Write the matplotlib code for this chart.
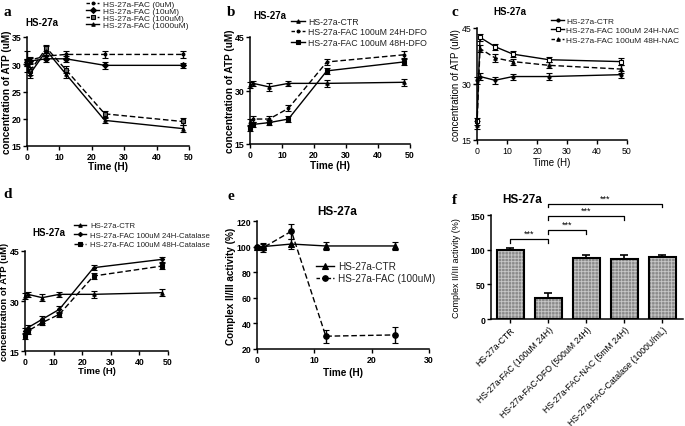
import matplotlib
matplotlib.use("Agg")
import matplotlib.pyplot as plt
from matplotlib.lines import Line2D
import numpy as np

plt.rcParams['font.family'] = ['Liberation Sans', 'DejaVu Sans']
plt.rcParams['hatch.linewidth'] = 0.6

W, H = 685, 427

# ---------------- data ----------------
time_atp = [0, 1, 6, 12, 24, 48]

# panel a
a_labels = ["HS-27a-FAC (0uM)", "HS-27a-FAC (10uM)", "HS-27a-FAC (100uM)", "HS-27a-FAC (1000uM)"]
a_0uM = [30.5, 30.8, 31.5, 31.8, 31.8, 31.8]
a_10uM = [30.4, 30.6, 31.0, 31.0, 29.8, 29.8]
a_100uM = [30.3, 28.8, 33.0, 29.0, 20.9, 19.5]
a_1000uM = [30.2, 28.3, 32.5, 28.2, 19.7, 18.2]
a_err = [[2.0, 0.5, 0.6, 0.6, 0.6, 0.6],
         [0.5, 0.5, 0.6, 0.6, 0.6, 0.5],
         [0.6, 0.7, 0.6, 0.6, 0.5, 0.7],
         [0.6, 0.8, 0.8, 0.7, 0.5, 0.7]]

# panel b
b_labels = ["HS-27a-CTR", "HS-27a-FAC 100uM 24H-DFO", "HS-27a-FAC 100uM 48H-DFO"]
b_ctr = [31.5, 32.0, 31.0, 32.0, 32.0, 32.3]
b_24 = [21.0, 22.0, 22.0, 25.0, 38.0, 40.0]
b_48 = [19.5, 20.5, 21.0, 22.0, 35.5, 38.0]
b_err = [[0.8, 0.8, 1.0, 0.8, 1.0, 1.0],
         [1.0, 0.8, 0.8, 0.8, 0.8, 1.0],
         [0.8, 0.8, 0.8, 0.8, 0.8, 0.8]]

# panel c
c_labels = ["HS-27a-CTR", "HS-27a-FAC 100uM 24H-NAC", "HS-27a-FAC 100uM 48H-NAC"]
c_ctr = [31.0, 32.0, 31.0, 32.0, 32.0, 32.5]
c_24 = [20.0, 42.5, 40.0, 38.0, 36.5, 36.0]
c_48 = [19.0, 39.5, 37.0, 36.0, 35.0, 34.0]
c_err = [[1.0, 1.0, 1.0, 0.8, 1.0, 1.0],
         [1.0, 1.0, 0.8, 0.8, 0.6, 1.0],
         [1.0, 1.0, 1.0, 0.8, 0.8, 1.0]]

# panel d
d_labels = ["HS-27a-CTR", "HS-27a-FAC 100uM 24H-Catalase", "HS-27a-FAC 100uM 48H-Catalase"]
d_ctr = [31.5, 32.0, 31.0, 32.0, 32.0, 32.5]
d_24 = [21.0, 22.0, 24.5, 27.5, 40.0, 42.5]
d_48 = [19.5, 21.0, 23.5, 26.0, 37.5, 40.5]
d_err = [[0.8, 0.8, 1.0, 0.8, 1.0, 1.0],
         [0.8, 0.8, 1.0, 1.0, 0.8, 0.8],
         [0.8, 0.8, 0.8, 0.8, 0.8, 0.8]]

# panel e
time_e = [0, 1, 6, 12, 24]
e_labels = ["HS-27a-CTR", "HS-27a-FAC (100uM)"]
e_ctr = [100, 100, 102, 100.5, 100.5]
e_fac = [100, 99, 112, 30, 31]
e_err_ctr = [0, 3, 4, 3, 3]
e_err_fac = [0, 3, 6, 5, 6]

# panel f
f_cats = ["HS-27a-CTR", "HS-27a-FAC (100uM 24H)", "HS-27a-FAC-DFO (500uM 24H)",
          "HS-27a-FAC-NAC (5mM 24H)", "HS-27a-FAC-Catalase (1000U/mL)"]
f_vals = [100, 31, 88, 87, 89]
f_err = [3, 6, 4, 5, 3]
f_sig_pairs = [(0, 1), (1, 2), (1, 3), (1, 4)]
f_sig_heights = [115, 128, 148, 166]
f_sig_text = "***"

# ---------------- helpers ----------------
fig = plt.figure(figsize=(6.85, 4.27), dpi=100)

def ax_px(x0, x1, ytop, ybot):
    a = fig.add_axes([x0 / W, 1 - ybot / H, (x1 - x0) / W, (ybot - ytop) / H])
    a._px = (x0, x1, ytop, ybot)
    return a

def style(ax, tick_size=6.3, bold=True):
    for s in ['top', 'right']:
        ax.spines[s].set_visible(False)
    for s in ['left', 'bottom']:
        ax.spines[s].set_linewidth(1.1)
    ax.tick_params(direction='out', length=3, width=1.0, labelsize=tick_size, pad=1.2)
    if bold:
        for lab in ax.get_xticklabels() + ax.get_yticklabels():
            lab.set_fontweight('bold')

def labels(ax, xl, yl, ylx_px, xly_px, size=7.2, weight='bold'):
    x0, x1, yt, yb = ax._px
    ax.set_xlabel(xl, fontsize=size, fontweight=weight)
    ax.set_ylabel(yl, fontsize=size, fontweight=weight)
    ax.yaxis.set_label_coords((ylx_px - x0) / (x1 - x0), 0.5)
    ax.xaxis.set_label_coords(0.5, (yb - xly_px) / (yb - yt))
    ax.xaxis.label.set_va('center')
    ax.yaxis.label.set_va('center')

def plot_series(ax, x, y, err, ls, marker, ms, mfc, label):
    kw = dict(color='black', lw=1.0, marker=marker, ms=ms, mfc=mfc, mec='black', mew=0.8,
              capsize=2, elinewidth=1.0, capthick=1.0, clip_on=False)
    c = ax.errorbar(x, y, yerr=err, ls=ls, **kw)
    if ls == '--':
        c[0].set_dashes((4, 2))
    h = Line2D([], [], color='black', lw=1.0, ls=ls, marker=marker, ms=ms, mfc=mfc,
               mec='black', mew=0.8, label=label)
    if ls == '--':
        h.set_dashes((2.5, 1.5))
    ax._handles = getattr(ax, '_handles', []) + [h]

def legend(ax, xpx, ypx, size, spacing, hl=1.6, pad=0.4):
    lg = ax.legend(handles=ax._handles, loc='upper left', bbox_to_anchor=(xpx / W, 1 - ypx / H),
                   bbox_transform=fig.transFigure, frameon=False, fontsize=size,
                   handlelength=hl, handletextpad=pad, borderpad=0, borderaxespad=0,
                   labelspacing=spacing)
    for t in lg.get_texts():
        t.set_color('#222222')
    return lg

def ftext(xpx, ypx, s, **kw):
    fig.text(xpx / W, 1 - ypx / H, s, **kw)

# ---------------- panel a ----------------
ax = ax_px(27, 189, 38, 147)
plot_series(ax, time_atp, a_0uM, a_err[0], '--', 'o', 2.0, 'black', a_labels[0])
plot_series(ax, time_atp, a_10uM, a_err[1], '-', 'D', 3.0, 'black', a_labels[1])
plot_series(ax, time_atp, a_100uM, a_err[2], '--', 's', 3.5, '#666666', a_labels[2])
plot_series(ax, time_atp, a_1000uM, a_err[3], '-', '^', 2.5, 'black', a_labels[3])
ax.set_xlim(0, 50); ax.set_ylim(15, 35)
ax.set_xticks(range(0, 51, 10)); ax.set_yticks(range(15, 36, 5))
labels(ax, "Time (H)", "concentration of ATP (uM)", 7, 167)
style(ax)
legend(ax, 86, 1, 6.0, -0.08)
ftext(42, 23, "HS-27a", fontsize=7, fontweight='bold', ha='center', va='center')

# ---------------- panel b ----------------
ax = ax_px(250, 410, 38, 145)
plot_series(ax, time_atp, b_ctr, b_err[0], '-', '^', 2.5, 'black', b_labels[0])
plot_series(ax, time_atp, b_24, b_err[1], '--', 'o', 2.0, 'black', b_labels[1])
plot_series(ax, time_atp, b_48, b_err[2], '-', 's', 2.5, 'black', b_labels[2])
ax.set_xlim(0, 50); ax.set_ylim(15, 45)
ax.set_xticks(range(0, 51, 10)); ax.set_yticks([15, 30, 45])
labels(ax, "Time (H)", "concentration of ATP (uM)", 230, 166)
style(ax)
legend(ax, 291, 18, 6.3, 0.15)
ftext(270, 16, "HS-27a", fontsize=7, fontweight='bold', ha='center', va='center')

# ---------------- panel c ----------------
ax = ax_px(477, 627, 29, 141)
plot_series(ax, time_atp, c_ctr, c_err[0], '-', 'o', 2.2, 'black', c_labels[0])
plot_series(ax, time_atp, c_24, c_err[1], '-', 's', 3.2, 'white', c_labels[1])
plot_series(ax, time_atp, c_48, c_err[2], '--', '^', 2.5, 'black', c_labels[2])
ax.set_xlim(0, 50); ax.set_ylim(15, 45)
ax.set_xticks(range(0, 51, 10)); ax.set_yticks([15, 30, 45])
labels(ax, "Time (H)", "concentration of ATP (uM)", 456, 163, size=7.0, weight='normal')
style(ax, bold=False)
legend(ax, 551, 18, 6.0, 0.2, pad=0.25)
ftext(510, 12, "HS-27a", fontsize=7, fontweight='bold', ha='center', va='center')

# ---------------- panel d ----------------
ax = ax_px(25, 168, 252, 352)
plot_series(ax, time_atp, d_ctr, d_err[0], '-', '^', 2.5, 'black', d_labels[0])
plot_series(ax, time_atp, d_24, d_err[1], '-', 'D', 2.2, 'black', d_labels[1])
plot_series(ax, time_atp, d_48, d_err[2], '--', 's', 2.5, 'black', d_labels[2])
ax.set_xlim(0, 50); ax.set_ylim(15, 45)
ax.set_xticks(range(0, 51, 10)); ax.set_yticks([15, 30, 45])
labels(ax, "Time (H)", "concentration of ATP (uM)", 5, 371, size=6.8)
style(ax)
legend(ax, 74, 223, 5.6, 0.25, pad=0.5)
ftext(49, 233, "HS-27a", fontsize=7, fontweight='bold', ha='center', va='center')

# ---------------- panel e ----------------
ax = ax_px(257, 429, 222, 350)
plot_series(ax, time_e, e_ctr, e_err_ctr, '-', '^', 4.5, 'black', e_labels[0])
plot_series(ax, time_e, e_fac, e_err_fac, '--', 'o', 4.0, 'black', e_labels[1])
ax.set_xlim(0, 30); ax.set_ylim(20, 120)
ax.set_xticks(range(0, 31, 10)); ax.set_yticks(range(20, 121, 20))
labels(ax, "Time (H)", "Complex II/III activity (%)", 231, 373)
style(ax)
legend(ax, 316, 262, 7.2, 0.25, hl=1.8)
ftext(337, 212, "HS-27a", fontsize=8.5, fontweight='bold', ha='center', va='center')

# ---------------- panel f ----------------
ax = ax_px(491, 683, 216, 320)
xf = np.arange(len(f_cats))
ax.bar(xf, f_vals, width=0.7, color='#8a8a8a', edgecolor='#c8c8c8', hatch='+++++', lw=0, zorder=2)
ax.bar(xf, f_vals, width=0.7, fill=False, edgecolor='black', lw=1.5, zorder=3)
ax.errorbar(xf, f_vals, yerr=[np.zeros(len(f_err)), f_err], fmt='none', ecolor='black',
            elinewidth=1.2, capsize=3, capthick=1.2, zorder=4)
ax.set_xlim(-0.51, 4.54); ax.set_ylim(0, 150)
ax.set_yticks([0, 50, 100, 150])
ax.set_xticks(xf)
ax.set_xticklabels(f_cats, rotation=45, ha='right', rotation_mode='anchor', fontsize=6.5)
ax.set_ylabel("Complex II/III activity (%)", fontsize=6.5)
ax.yaxis.set_label_coords((461 - 491) / 192, 0.5)
style(ax)
for lab in ax.get_xticklabels():
    lab.set_fontweight('normal')
for (i, j), h in zip(f_sig_pairs, f_sig_heights):
    ax.plot([i, i, j, j], [h - 5, h, h, h - 5], color='black', lw=0.9, clip_on=False)
    ax.text((i + j) / 2, h + 2, f_sig_text, ha='center', va='bottom', fontsize=6.5, clip_on=False)
ftext(522, 200, "HS-27a", fontsize=8.5, fontweight='bold', ha='center', va='center')

# ---------------- panel letters ----------------
for s, xp, yp in [("a", 3, 12), ("b", 227, 12), ("c", 452, 12),
                  ("d", 3, 194), ("e", 227, 196), ("f", 452, 200)]:
    ftext(xp, yp, s, fontsize=11, fontweight='bold', family='Liberation Serif', va='center', ha='left')

fig.savefig("out.png", dpi=100)
